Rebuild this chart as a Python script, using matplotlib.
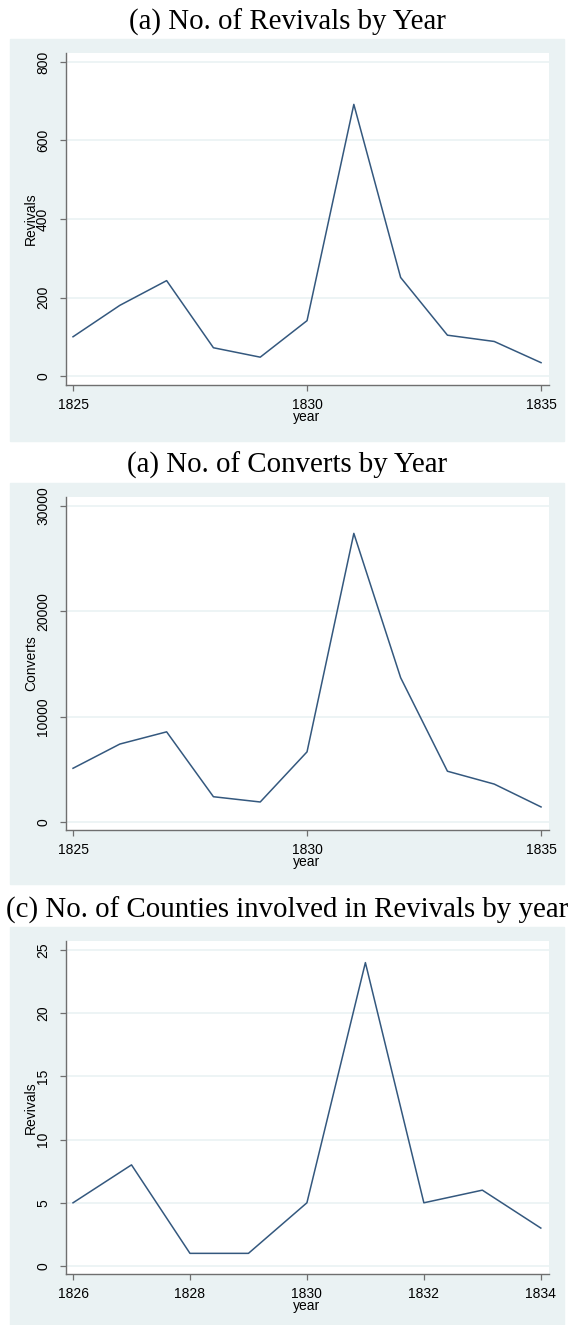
"""
revivals
~~~~~~~~
Plot revivals, converts and counties involved, by year.
"""
import matplotlib
matplotlib.use("Agg")
import matplotlib.pyplot as plt
from matplotlib.patches import Rectangle

# Revivals and converts by year
years = [1825, 1826, 1827, 1828, 1829, 1830, 1831, 1832, 1833, 1834, 1835]
revivals = [100, 180, 243, 72, 48, 141, 692, 251, 104, 88, 34]
converts = [5100, 7400, 8560, 2400, 1900, 6660, 27400, 13700, 4820, 3600, 1430]

# Counties involved in revivals
county_years = [1826, 1827, 1828, 1829, 1830, 1831, 1832, 1833, 1834]
counties = [5, 8, 1, 1, 5, 24, 5, 6, 3]

W, H = 569, 1325
BG = '#eaf2f3'
LINE = '#34587e'
AXIS = '#6f6f6f'


def px_box(left, top, right, bottom):
    """pixel box -> figure fractions [l, b, w, h]"""
    return [left / W, 1 - bottom / H, (right - left) / W, (bottom - top) / H]


def draw_panel(fig, title, title_y, bg_top, bg_bottom, ax_top, ax_bottom,
               x, y, xticks, xlim, yticks, ylim, ylabel):
    fig.add_artist(Rectangle((10 / W, 1 - bg_bottom / H),
                             (564 - 10) / W, (bg_bottom - bg_top) / H,
                             transform=fig.transFigure, color=BG,
                             zorder=-10))
    fig.text(287 / W, 1 - title_y / H, title, ha='center', va='center',
             family='Liberation Serif', fontsize=20.8)

    ax = fig.add_axes(px_box(66, ax_top, 549, ax_bottom))
    ax.set_facecolor('white')
    ax.plot(x, y, color=LINE, lw=1.1)
    ax.set_xlim(xlim)
    ax.set_ylim(ylim)
    ax.set_xticks(xticks)
    ax.set_yticks(yticks)
    ax.set_yticklabels([str(t) for t in yticks], rotation=90, va='center')
    ax.grid(True, axis='y', color=BG, lw=1.2)
    ax.set_axisbelow(True)
    for side in ['top', 'right']:
        ax.spines[side].set_visible(False)
    for side in ['left', 'bottom']:
        ax.spines[side].set_color(AXIS)
        ax.spines[side].set_linewidth(1.0)
    ax.tick_params(colors=AXIS, labelcolor='black', length=4.5, width=0.9,
                   labelsize=10)
    ax.tick_params(axis='y', pad=7)
    ax.tick_params(axis='x', pad=5)
    for lab in ax.get_xticklabels() + ax.get_yticklabels():
        lab.set_family('Liberation Sans')

    fig.text(31 / W, 1 - (ax_top + ax_bottom) / 2 / H, ylabel, rotation=90,
             ha='center', va='center', family='Liberation Sans', fontsize=10)
    fig.text(307 / W, 1 - (ax_bottom + 32) / H, 'year', ha='center',
             va='center', family='Liberation Sans', fontsize=10)
    return ax


def main():
    fig = plt.figure(figsize=(W / 100, H / 100), dpi=100)
    fig.patch.set_facecolor('white')

    draw_panel(fig, '(a) No. of Revivals by Year', 22, 39, 441, 53, 385,
               years, revivals, [1825, 1830, 1835], (1824.85, 1835.17),
               [0, 200, 400, 600, 800], (-22.9, 822.9), 'Revivals')
    draw_panel(fig, '(a) No. of Converts by Year', 465, 483, 884, 497, 830,
               years, converts, [1825, 1830, 1835], (1824.85, 1835.17),
               [0, 10000, 20000, 30000], (-759, 30854), 'Converts')
    draw_panel(fig, '(c) No. of Counties involved in Revivals by year', 910,
               927, 1325, 941, 1274,
               county_years, counties, [1826, 1828, 1830, 1832, 1834],
               (1825.88, 1834.14), [0, 5, 10, 15, 20, 25], (-0.633, 25.71),
               'Revivals')

    fig.savefig('out.png', dpi=100)


if __name__ == "__main__":
    main()
